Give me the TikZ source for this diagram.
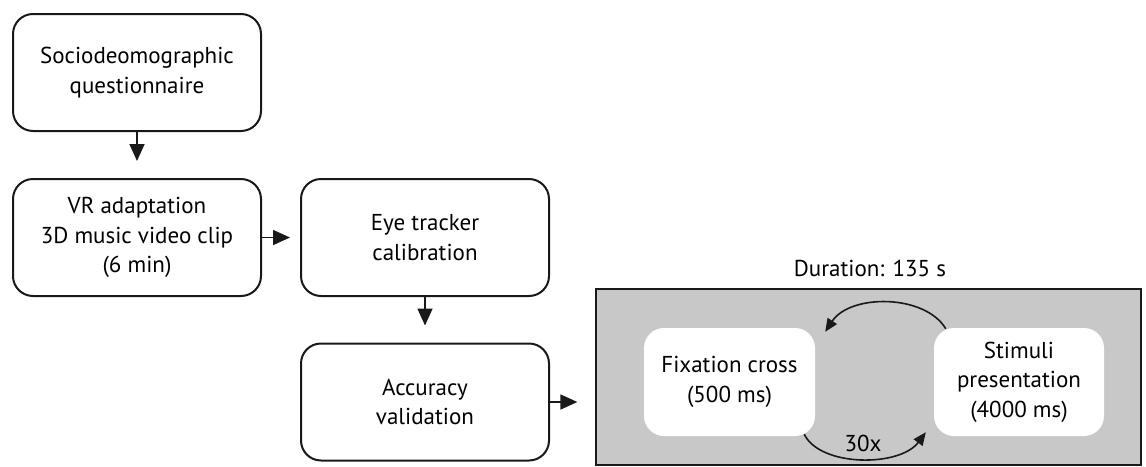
\documentclass[tikz,border=0pt]{standalone}
\usepackage{fontspec}
\setmainfont{PT Sans}
\usetikzlibrary{arrows.meta}
\definecolor{panelgray}{RGB}{200,200,200}
\definecolor{edge}{RGB}{25,25,25}
\tikzset{
  stepbox/.style={draw=edge, line width=2pt, rounded corners=20pt, fill=white,
    minimum width=248pt, minimum height=117pt, align=center, inner sep=0pt,
    font=\fontsize{23}{29.5}\selectfont},
  whitebox/.style={fill=white, rounded corners=20pt, minimum width=171pt,
    minimum height=108pt, align=center, inner sep=0pt,
    font=\fontsize{23}{29.5}\selectfont},
  flowarrow/.style={draw=edge, line width=1.7pt, -{Triangle[length=17pt,width=15pt]}},
  looparrow/.style={draw=edge, line width=1.6pt, -{Triangle[length=13pt,width=11pt]}},
  lbl/.style={font=\fontsize{23}{28}\selectfont, inner sep=0pt}
}
\begin{document}
\begin{tikzpicture}[x=1pt,y=-1pt]
\useasboundingbox (0,0) rectangle (1146,466);
\node[stepbox] (socio) at (137,72.5) {Sociodeomographic\\questionnaire};
\node[stepbox] (vr) at (137,237.5) {VR adaptation\\3D music video clip\\(6 min)};
\node[stepbox] (eye) at (425,237.5) {Eye tracker\\calibration};
\node[stepbox] (acc) at (425,402) {Accuracy\\validation};
\node[draw=edge, line width=1.3pt, fill=panelgray, minimum width=545pt, minimum height=176pt, inner sep=0pt] (panel) at (868.5,377) {};
\node[lbl] (dur) at (870,268) {Duration: 135 s};
\node[whitebox] (fix) at (729.5,382) {Fixation cross\\(500 ms)};
\node[whitebox, minimum width=170pt] (stim) at (1019,382) {Stimuli\\presentation\\(4000 ms)};
\draw[flowarrow, shorten >=17pt] (socio.south) -- (vr.north);
\draw[flowarrow, shorten >=10pt] (vr.east) -- (eye.west);
\draw[flowarrow, shorten >=17pt] (eye.south) -- (acc.north);
\draw[flowarrow, shorten >=18pt] (acc.east) -- (acc.east -| panel.west);
\draw[looparrow] ([xshift=12pt,yshift=-1pt]stim.north west) .. controls +(-21,-35) and +(25,-38) .. ([xshift=10pt,yshift=-4pt]fix.north east);
\draw[looparrow] ([xshift=-11pt,yshift=2pt]fix.south east) .. controls +(16,33) and +(-26,35) .. ([xshift=-8pt,yshift=4pt]stim.south west);
\node[lbl] (rep) at (863,443) {30x};
\end{tikzpicture}
\end{document}
